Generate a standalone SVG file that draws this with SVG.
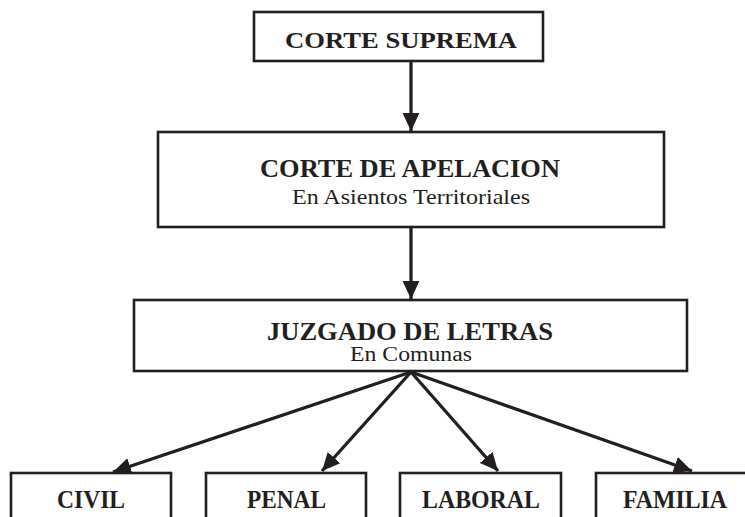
<svg xmlns="http://www.w3.org/2000/svg" width="745" height="517" viewBox="0 0 745 517">
<defs>
<style>
.box{fill:#fff;stroke:#231f20;stroke-width:2.6}
.b{font-family:"Liberation Serif","Times New Roman",serif;font-weight:bold;fill:#231f20;text-anchor:middle}
.r{font-family:"Liberation Serif","Times New Roman",serif;fill:#231f20;text-anchor:middle}
.c{stroke:#231f20;stroke-width:3.3;fill:none}
</style>
<marker id="ah" markerUnits="userSpaceOnUse" markerWidth="20" markerHeight="20" viewBox="0 0 20 20" refX="18" refY="10" orient="auto">
<path d="M0,1.5 L18,10 L0,18.5 Z" fill="#231f20"/>
</marker>
</defs>
<g id="corte-suprema">
<rect class="box" x="254" y="12" width="289" height="49"/>
<text class="b" x="401" y="47.5" font-size="24" textLength="232" lengthAdjust="spacingAndGlyphs">CORTE SUPREMA</text>
</g>
<g id="corte-apelacion">
<rect class="box" x="158" y="132" width="506" height="95"/>
<text class="b" x="410" y="177" font-size="25" textLength="300" lengthAdjust="spacingAndGlyphs">CORTE DE APELACION</text>
<text class="r" x="411" y="204" font-size="21" textLength="238" lengthAdjust="spacingAndGlyphs">En Asientos Territoriales</text>
</g>
<g id="juzgado">
<rect class="box" x="134" y="300" width="553" height="71"/>
<text class="b" x="410" y="340" font-size="25" textLength="286" lengthAdjust="spacingAndGlyphs">JUZGADO DE LETRAS</text>
<text class="r" x="411" y="361" font-size="20" textLength="122" lengthAdjust="spacingAndGlyphs">En Comunas</text>
</g>
<g id="civil">
<rect class="box" x="11" y="473" width="160" height="60"/>
<text class="b" x="91" y="507.5" font-size="26" textLength="68" lengthAdjust="spacingAndGlyphs">CIVIL</text>
</g>
<g id="penal">
<rect class="box" x="206" y="473" width="160" height="60"/>
<text class="b" x="286.5" y="507.5" font-size="26" textLength="79" lengthAdjust="spacingAndGlyphs">PENAL</text>
</g>
<g id="laboral">
<rect class="box" x="400" y="473" width="161" height="60"/>
<text class="b" x="481" y="507.5" font-size="26" textLength="118" lengthAdjust="spacingAndGlyphs">LABORAL</text>
</g>
<g id="familia">
<rect class="box" x="596" y="473" width="160" height="60"/>
<text class="b" x="675" y="507.5" font-size="26" textLength="104" lengthAdjust="spacingAndGlyphs">FAMILIA</text>
</g>
<g id="connectors">
<line class="c" x1="411" y1="61" x2="411" y2="131" marker-end="url(#ah)"/>
<line class="c" x1="411" y1="227" x2="411" y2="299" marker-end="url(#ah)"/>
<line class="c" x1="411" y1="372" x2="113" y2="472" marker-end="url(#ah)"/>
<line class="c" x1="411" y1="372" x2="322" y2="471" marker-end="url(#ah)"/>
<line class="c" x1="411" y1="372" x2="498" y2="471" marker-end="url(#ah)"/>
<line class="c" x1="411" y1="372" x2="692" y2="471" marker-end="url(#ah)"/>
</g>
</svg>
